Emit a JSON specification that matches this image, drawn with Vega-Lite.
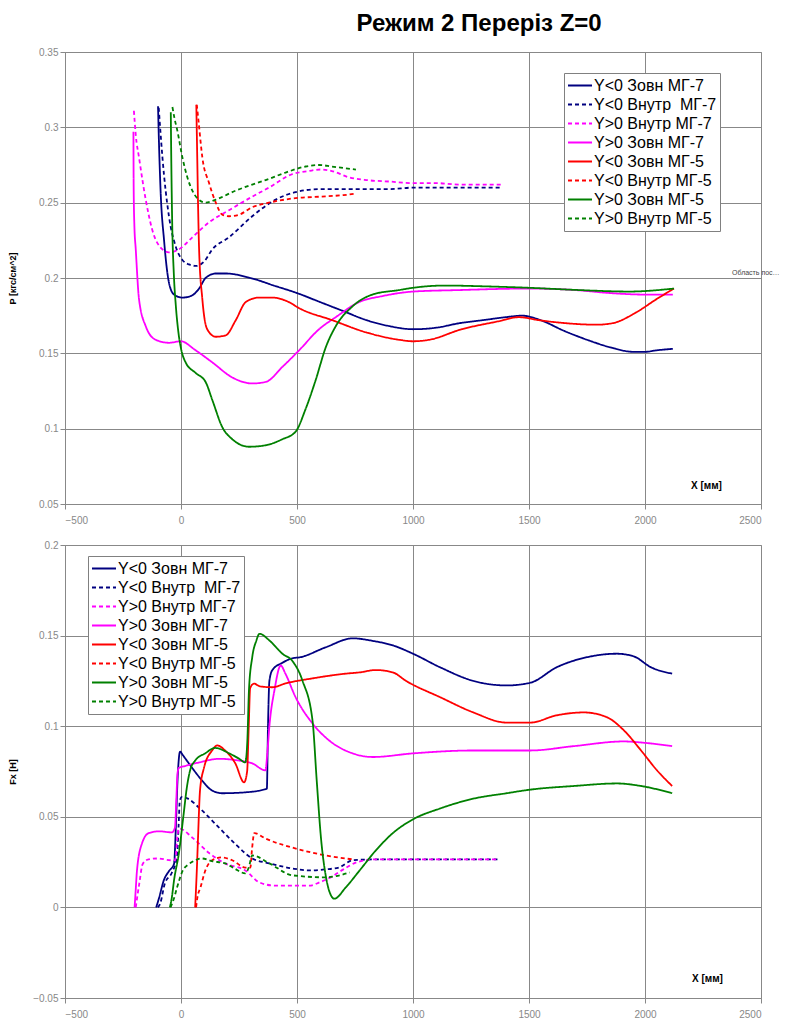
{
"$schema": "https://vega.github.io/schema/vega-lite/v6.json",
"padding": {"left": 8, "top": 11, "right": 0, "bottom": 0},
"background": "white",
"title": {"text": "Режим 2 Переріз Z=0", "fontSize": 24, "font": "Liberation Sans", "fontWeight": "bold", "color": "black", "anchor": "middle", "dx": 85, "offset": 11},
"spacing": 41,
"bounds": "flush",
"resolve": {"legend": {"color": "independent", "strokeDash": "independent"}},
"datasets": {
"top": [
{"s":"Y<0 Зовн МГ-7","x":-99,"y":0.314},{"s":"Y<0 Зовн МГ-7","x":-95,"y":0.29},{"s":"Y<0 Зовн МГ-7","x":-88,"y":0.258},{"s":"Y<0 Зовн МГ-7","x":-73,"y":0.225},{"s":"Y<0 Зовн МГ-7","x":-52,"y":0.197},{"s":"Y<0 Зовн МГ-7","x":-30,"y":0.189},{"s":"Y<0 Зовн МГ-7","x":6,"y":0.187},{"s":"Y<0 Зовн МГ-7","x":42,"y":0.188},{"s":"Y<0 Зовн МГ-7","x":78,"y":0.193},{"s":"Y<0 Зовн МГ-7","x":106,"y":0.2},{"s":"Y<0 Зовн МГ-7","x":150,"y":0.203},{"s":"Y<0 Зовн МГ-7","x":193,"y":0.203},{"s":"Y<0 Зовн МГ-7","x":300,"y":0.2},{"s":"Y<0 Зовн МГ-7","x":400,"y":0.195},{"s":"Y<0 Зовн МГ-7","x":500,"y":0.19},{"s":"Y<0 Зовн МГ-7","x":600,"y":0.184},{"s":"Y<0 Зовн МГ-7","x":700,"y":0.178},{"s":"Y<0 Зовн МГ-7","x":800,"y":0.172},{"s":"Y<0 Зовн МГ-7","x":900,"y":0.168},{"s":"Y<0 Зовн МГ-7","x":1000,"y":0.166},{"s":"Y<0 Зовн МГ-7","x":1100,"y":0.167},{"s":"Y<0 Зовн МГ-7","x":1200,"y":0.17},{"s":"Y<0 Зовн МГ-7","x":1300,"y":0.172},{"s":"Y<0 Зовн МГ-7","x":1400,"y":0.174},{"s":"Y<0 Зовн МГ-7","x":1470,"y":0.175},{"s":"Y<0 Зовн МГ-7","x":1550,"y":0.172},{"s":"Y<0 Зовн МГ-7","x":1650,"y":0.165},{"s":"Y<0 Зовн МГ-7","x":1750,"y":0.159},{"s":"Y<0 Зовн МГ-7","x":1850,"y":0.154},{"s":"Y<0 Зовн МГ-7","x":1950,"y":0.151},{"s":"Y<0 Зовн МГ-7","x":2000,"y":0.151},{"s":"Y<0 Зовн МГ-7","x":2050,"y":0.152},{"s":"Y<0 Зовн МГ-7","x":2120,"y":0.153},
{"s":"Y<0 Внутр\u00a0 МГ-7","x":-96,"y":0.313},{"s":"Y<0 Внутр\u00a0 МГ-7","x":-90,"y":0.3},{"s":"Y<0 Внутр\u00a0 МГ-7","x":-80,"y":0.28},{"s":"Y<0 Внутр\u00a0 МГ-7","x":-52,"y":0.241},{"s":"Y<0 Внутр\u00a0 МГ-7","x":-23,"y":0.221},{"s":"Y<0 Внутр\u00a0 МГ-7","x":6,"y":0.212},{"s":"Y<0 Внутр\u00a0 МГ-7","x":34,"y":0.209},{"s":"Y<0 Внутр\u00a0 МГ-7","x":65,"y":0.208},{"s":"Y<0 Внутр\u00a0 МГ-7","x":100,"y":0.211},{"s":"Y<0 Внутр\u00a0 МГ-7","x":135,"y":0.219},{"s":"Y<0 Внутр\u00a0 МГ-7","x":207,"y":0.227},{"s":"Y<0 Внутр\u00a0 МГ-7","x":307,"y":0.241},{"s":"Y<0 Внутр\u00a0 МГ-7","x":408,"y":0.252},{"s":"Y<0 Внутр\u00a0 МГ-7","x":494,"y":0.257},{"s":"Y<0 Внутр\u00a0 МГ-7","x":600,"y":0.259},{"s":"Y<0 Внутр\u00a0 МГ-7","x":700,"y":0.259},{"s":"Y<0 Внутр\u00a0 МГ-7","x":800,"y":0.259},{"s":"Y<0 Внутр\u00a0 МГ-7","x":900,"y":0.259},{"s":"Y<0 Внутр\u00a0 МГ-7","x":1000,"y":0.26},{"s":"Y<0 Внутр\u00a0 МГ-7","x":1100,"y":0.26},{"s":"Y<0 Внутр\u00a0 МГ-7","x":1200,"y":0.26},{"s":"Y<0 Внутр\u00a0 МГ-7","x":1300,"y":0.26},{"s":"Y<0 Внутр\u00a0 МГ-7","x":1380,"y":0.26},
{"s":"Y>0 Внутр МГ-7","x":-203,"y":0.311},{"s":"Y>0 Внутр МГ-7","x":-195,"y":0.295},{"s":"Y>0 Внутр МГ-7","x":-181,"y":0.28},{"s":"Y>0 Внутр МГ-7","x":-152,"y":0.252},{"s":"Y>0 Внутр МГ-7","x":-124,"y":0.232},{"s":"Y>0 Внутр МГ-7","x":-80,"y":0.219},{"s":"Y>0 Внутр МГ-7","x":-52,"y":0.217},{"s":"Y>0 Внутр МГ-7","x":-9,"y":0.219},{"s":"Y>0 Внутр МГ-7","x":49,"y":0.227},{"s":"Y>0 Внутр МГ-7","x":121,"y":0.237},{"s":"Y>0 Внутр МГ-7","x":207,"y":0.245},{"s":"Y>0 Внутр МГ-7","x":307,"y":0.254},{"s":"Y>0 Внутр МГ-7","x":379,"y":0.26},{"s":"Y>0 Внутр МГ-7","x":480,"y":0.269},{"s":"Y>0 Внутр МГ-7","x":550,"y":0.271},{"s":"Y>0 Внутр МГ-7","x":600,"y":0.272},{"s":"Y>0 Внутр МГ-7","x":650,"y":0.271},{"s":"Y>0 Внутр МГ-7","x":720,"y":0.267},{"s":"Y>0 Внутр МГ-7","x":800,"y":0.265},{"s":"Y>0 Внутр МГ-7","x":900,"y":0.264},{"s":"Y>0 Внутр МГ-7","x":1000,"y":0.263},{"s":"Y>0 Внутр МГ-7","x":1100,"y":0.263},{"s":"Y>0 Внутр МГ-7","x":1200,"y":0.262},{"s":"Y>0 Внутр МГ-7","x":1300,"y":0.262},{"s":"Y>0 Внутр МГ-7","x":1380,"y":0.262},
{"s":"Y>0 Зовн МГ-7","x":-205,"y":0.297},{"s":"Y>0 Зовн МГ-7","x":-204,"y":0.26},{"s":"Y>0 Зовн МГ-7","x":-201,"y":0.235},{"s":"Y>0 Зовн МГ-7","x":-195,"y":0.219},{"s":"Y>0 Зовн МГ-7","x":-181,"y":0.186},{"s":"Y>0 Зовн МГ-7","x":-152,"y":0.168},{"s":"Y>0 Зовн МГ-7","x":-109,"y":0.159},{"s":"Y>0 Зовн МГ-7","x":-52,"y":0.157},{"s":"Y>0 Зовн МГ-7","x":-1,"y":0.158},{"s":"Y>0 Зовн МГ-7","x":63,"y":0.152},{"s":"Y>0 Зовн МГ-7","x":135,"y":0.144},{"s":"Y>0 Зовн МГ-7","x":221,"y":0.134},{"s":"Y>0 Зовн МГ-7","x":307,"y":0.13},{"s":"Y>0 Зовн МГ-7","x":365,"y":0.131},{"s":"Y>0 Зовн МГ-7","x":437,"y":0.141},{"s":"Y>0 Зовн МГ-7","x":509,"y":0.152},{"s":"Y>0 Зовн МГ-7","x":595,"y":0.166},{"s":"Y>0 Зовн МГ-7","x":667,"y":0.174},{"s":"Y>0 Зовн МГ-7","x":767,"y":0.184},{"s":"Y>0 Зовн МГ-7","x":868,"y":0.188},{"s":"Y>0 Зовн МГ-7","x":1000,"y":0.191},{"s":"Y>0 Зовн МГ-7","x":1200,"y":0.192},{"s":"Y>0 Зовн МГ-7","x":1500,"y":0.193},{"s":"Y>0 Зовн МГ-7","x":1700,"y":0.192},{"s":"Y>0 Зовн МГ-7","x":1850,"y":0.19},{"s":"Y>0 Зовн МГ-7","x":2000,"y":0.189},{"s":"Y>0 Зовн МГ-7","x":2120,"y":0.189},
{"s":"Y<0 Зовн МГ-5","x":66,"y":0.315},{"s":"Y<0 Зовн МГ-5","x":70,"y":0.28},{"s":"Y<0 Зовн МГ-5","x":74,"y":0.245},{"s":"Y<0 Зовн МГ-5","x":78,"y":0.219},{"s":"Y<0 Зовн МГ-5","x":92,"y":0.186},{"s":"Y<0 Зовн МГ-5","x":113,"y":0.166},{"s":"Y<0 Зовн МГ-5","x":150,"y":0.161},{"s":"Y<0 Зовн МГ-5","x":193,"y":0.162},{"s":"Y<0 Зовн МГ-5","x":236,"y":0.172},{"s":"Y<0 Зовн МГ-5","x":279,"y":0.184},{"s":"Y<0 Зовн МГ-5","x":336,"y":0.187},{"s":"Y<0 Зовн МГ-5","x":394,"y":0.187},{"s":"Y<0 Зовн МГ-5","x":465,"y":0.184},{"s":"Y<0 Зовн МГ-5","x":509,"y":0.18},{"s":"Y<0 Зовн МГ-5","x":652,"y":0.172},{"s":"Y<0 Зовн МГ-5","x":796,"y":0.164},{"s":"Y<0 Зовн МГ-5","x":940,"y":0.159},{"s":"Y<0 Зовн МГ-5","x":1000,"y":0.158},{"s":"Y<0 Зовн МГ-5","x":1070,"y":0.159},{"s":"Y<0 Зовн МГ-5","x":1210,"y":0.166},{"s":"Y<0 Зовн МГ-5","x":1360,"y":0.171},{"s":"Y<0 Зовн МГ-5","x":1457,"y":0.174},{"s":"Y<0 Зовн МГ-5","x":1543,"y":0.172},{"s":"Y<0 Зовн МГ-5","x":1660,"y":0.17},{"s":"Y<0 Зовн МГ-5","x":1790,"y":0.169},{"s":"Y<0 Зовн МГ-5","x":1860,"y":0.17},{"s":"Y<0 Зовн МГ-5","x":1960,"y":0.177},{"s":"Y<0 Зовн МГ-5","x":2050,"y":0.186},{"s":"Y<0 Зовн МГ-5","x":2125,"y":0.193},
{"s":"Y<0 Внутр МГ-5","x":68,"y":0.315},{"s":"Y<0 Внутр МГ-5","x":75,"y":0.305},{"s":"Y<0 Внутр МГ-5","x":92,"y":0.28},{"s":"Y<0 Внутр МГ-5","x":121,"y":0.263},{"s":"Y<0 Внутр МГ-5","x":150,"y":0.25},{"s":"Y<0 Внутр МГ-5","x":178,"y":0.242},{"s":"Y<0 Внутр МГ-5","x":207,"y":0.241},{"s":"Y<0 Внутр МГ-5","x":250,"y":0.242},{"s":"Y<0 Внутр МГ-5","x":307,"y":0.247},{"s":"Y<0 Внутр МГ-5","x":379,"y":0.25},{"s":"Y<0 Внутр МГ-5","x":494,"y":0.253},{"s":"Y<0 Внутр МГ-5","x":600,"y":0.254},{"s":"Y<0 Внутр МГ-5","x":700,"y":0.255},{"s":"Y<0 Внутр МГ-5","x":754,"y":0.256},
{"s":"Y>0 Зовн МГ-5","x":-44,"y":0.31},{"s":"Y>0 Зовн МГ-5","x":-42,"y":0.28},{"s":"Y>0 Зовн МГ-5","x":-38,"y":0.237},{"s":"Y>0 Зовн МГ-5","x":-31,"y":0.203},{"s":"Y>0 Зовн МГ-5","x":-23,"y":0.183},{"s":"Y>0 Зовн МГ-5","x":-12,"y":0.165},{"s":"Y>0 Зовн МГ-5","x":-1,"y":0.154},{"s":"Y>0 Зовн МГ-5","x":20,"y":0.144},{"s":"Y>0 Зовн МГ-5","x":63,"y":0.137},{"s":"Y>0 Зовн МГ-5","x":106,"y":0.131},{"s":"Y>0 Зовн МГ-5","x":135,"y":0.119},{"s":"Y>0 Зовн МГ-5","x":178,"y":0.101},{"s":"Y>0 Зовн МГ-5","x":221,"y":0.093},{"s":"Y>0 Зовн МГ-5","x":293,"y":0.088},{"s":"Y>0 Зовн МГ-5","x":365,"y":0.089},{"s":"Y>0 Зовн МГ-5","x":437,"y":0.093},{"s":"Y>0 Зовн МГ-5","x":494,"y":0.098},{"s":"Y>0 Зовн МГ-5","x":537,"y":0.113},{"s":"Y>0 Зовн МГ-5","x":580,"y":0.132},{"s":"Y>0 Зовн МГ-5","x":624,"y":0.154},{"s":"Y>0 Зовн МГ-5","x":667,"y":0.168},{"s":"Y>0 Зовн МГ-5","x":738,"y":0.181},{"s":"Y>0 Зовн МГ-5","x":825,"y":0.189},{"s":"Y>0 Зовн МГ-5","x":940,"y":0.192},{"s":"Y>0 Зовн МГ-5","x":1000,"y":0.1935},{"s":"Y>0 Зовн МГ-5","x":1142,"y":0.195},{"s":"Y>0 Зовн МГ-5","x":1300,"y":0.1945},{"s":"Y>0 Зовн МГ-5","x":1500,"y":0.1935},{"s":"Y>0 Зовн МГ-5","x":1715,"y":0.192},{"s":"Y>0 Зовн МГ-5","x":1931,"y":0.191},{"s":"Y>0 Зовн МГ-5","x":2125,"y":0.193},
{"s":"Y>0 Внутр МГ-5","x":-37,"y":0.3135},{"s":"Y>0 Внутр МГ-5","x":-28,"y":0.306},{"s":"Y>0 Внутр МГ-5","x":-16,"y":0.298},{"s":"Y>0 Внутр МГ-5","x":6,"y":0.28},{"s":"Y>0 Внутр МГ-5","x":27,"y":0.267},{"s":"Y>0 Внутр МГ-5","x":49,"y":0.258},{"s":"Y>0 Внутр МГ-5","x":70,"y":0.253},{"s":"Y>0 Внутр МГ-5","x":106,"y":0.25},{"s":"Y>0 Внутр МГ-5","x":150,"y":0.252},{"s":"Y>0 Внутр МГ-5","x":236,"y":0.258},{"s":"Y>0 Внутр МГ-5","x":307,"y":0.262},{"s":"Y>0 Внутр МГ-5","x":365,"y":0.265},{"s":"Y>0 Внутр МГ-5","x":451,"y":0.27},{"s":"Y>0 Внутр МГ-5","x":537,"y":0.274},{"s":"Y>0 Внутр МГ-5","x":595,"y":0.275},{"s":"Y>0 Внутр МГ-5","x":650,"y":0.274},{"s":"Y>0 Внутр МГ-5","x":700,"y":0.273},{"s":"Y>0 Внутр МГ-5","x":754,"y":0.272}
],
"bot": [
{"s":"Y<0 Зовн МГ-7","x":-107,"y":0},{"s":"Y<0 Зовн МГ-7","x":-95,"y":0.005},{"s":"Y<0 Зовн МГ-7","x":-74,"y":0.015},{"s":"Y<0 Зовн МГ-7","x":-52,"y":0.02},{"s":"Y<0 Зовн МГ-7","x":-30,"y":0.024},{"s":"Y<0 Зовн МГ-7","x":-22,"y":0.045},{"s":"Y<0 Зовн МГ-7","x":-15,"y":0.07},{"s":"Y<0 Зовн МГ-7","x":-4,"y":0.086},{"s":"Y<0 Зовн МГ-7","x":8,"y":0.084},{"s":"Y<0 Зовн МГ-7","x":48,"y":0.077},{"s":"Y<0 Зовн МГ-7","x":91,"y":0.07},{"s":"Y<0 Зовн МГ-7","x":134,"y":0.0645},{"s":"Y<0 Зовн МГ-7","x":177,"y":0.063},{"s":"Y<0 Зовн МГ-7","x":277,"y":0.0635},{"s":"Y<0 Зовн МГ-7","x":370,"y":0.0655},{"s":"Y<0 Зовн МГ-7","x":375,"y":0.1},{"s":"Y<0 Зовн МГ-7","x":381,"y":0.125},{"s":"Y<0 Зовн МГ-7","x":394,"y":0.131},{"s":"Y<0 Зовн МГ-7","x":437,"y":0.135},{"s":"Y<0 Зовн МГ-7","x":480,"y":0.1375},{"s":"Y<0 Зовн МГ-7","x":511,"y":0.138},{"s":"Y<0 Зовн МГ-7","x":623,"y":0.1435},{"s":"Y<0 Зовн МГ-7","x":740,"y":0.1485},{"s":"Y<0 Зовн МГ-7","x":830,"y":0.147},{"s":"Y<0 Зовн МГ-7","x":913,"y":0.1446},{"s":"Y<0 Зовн МГ-7","x":1000,"y":0.14},{"s":"Y<0 Зовн МГ-7","x":1117,"y":0.1325},{"s":"Y<0 Зовн МГ-7","x":1260,"y":0.125},{"s":"Y<0 Зовн МГ-7","x":1403,"y":0.1225},{"s":"Y<0 Зовн МГ-7","x":1506,"y":0.124},{"s":"Y<0 Зовн МГ-7","x":1619,"y":0.1325},{"s":"Y<0 Зовн МГ-7","x":1766,"y":0.1385},{"s":"Y<0 Зовн МГ-7","x":1879,"y":0.14},{"s":"Y<0 Зовн МГ-7","x":1952,"y":0.1385},{"s":"Y<0 Зовн МГ-7","x":2026,"y":0.1325},{"s":"Y<0 Зовн МГ-7","x":2117,"y":0.129},
{"s":"Y<0 Внутр\u00a0 МГ-7","x":-100,"y":0},{"s":"Y<0 Внутр\u00a0 МГ-7","x":-90,"y":0.002},{"s":"Y<0 Внутр\u00a0 МГ-7","x":-70,"y":0.013},{"s":"Y<0 Внутр\u00a0 МГ-7","x":-40,"y":0.019},{"s":"Y<0 Внутр\u00a0 МГ-7","x":-17,"y":0.028},{"s":"Y<0 Внутр\u00a0 МГ-7","x":-10,"y":0.046},{"s":"Y<0 Внутр\u00a0 МГ-7","x":-5,"y":0.059},{"s":"Y<0 Внутр\u00a0 МГ-7","x":4,"y":0.061},{"s":"Y<0 Внутр\u00a0 МГ-7","x":30,"y":0.06},{"s":"Y<0 Внутр\u00a0 МГ-7","x":78,"y":0.055},{"s":"Y<0 Внутр\u00a0 МГ-7","x":164,"y":0.044},{"s":"Y<0 Внутр\u00a0 МГ-7","x":234,"y":0.035},{"s":"Y<0 Внутр\u00a0 МГ-7","x":307,"y":0.027},{"s":"Y<0 Внутр\u00a0 МГ-7","x":381,"y":0.0243},{"s":"Y<0 Внутр\u00a0 МГ-7","x":480,"y":0.0215},{"s":"Y<0 Внутр\u00a0 МГ-7","x":554,"y":0.0204},{"s":"Y<0 Внутр\u00a0 МГ-7","x":623,"y":0.021},{"s":"Y<0 Внутр\u00a0 МГ-7","x":680,"y":0.022},{"s":"Y<0 Внутр\u00a0 МГ-7","x":740,"y":0.026},{"s":"Y<0 Внутр\u00a0 МГ-7","x":840,"y":0.0265},{"s":"Y<0 Внутр\u00a0 МГ-7","x":1000,"y":0.0265},{"s":"Y<0 Внутр\u00a0 МГ-7","x":1200,"y":0.0265},{"s":"Y<0 Внутр\u00a0 МГ-7","x":1364,"y":0.0265},
{"s":"Y>0 Внутр МГ-7","x":-195,"y":0},{"s":"Y>0 Внутр МГ-7","x":-180,"y":0.013},{"s":"Y>0 Внутр МГ-7","x":-165,"y":0.024},{"s":"Y>0 Внутр МГ-7","x":-140,"y":0.0265},{"s":"Y>0 Внутр МГ-7","x":-100,"y":0.027},{"s":"Y>0 Внутр МГ-7","x":-40,"y":0.026},{"s":"Y>0 Внутр МГ-7","x":-25,"y":0.026},{"s":"Y>0 Внутр МГ-7","x":-15,"y":0.04},{"s":"Y>0 Внутр МГ-7","x":-9,"y":0.0436},{"s":"Y>0 Внутр МГ-7","x":48,"y":0.0386},{"s":"Y>0 Внутр МГ-7","x":121,"y":0.03},{"s":"Y>0 Внутр МГ-7","x":190,"y":0.0243},{"s":"Y>0 Внутр МГ-7","x":277,"y":0.0204},{"s":"Y>0 Внутр МГ-7","x":338,"y":0.0138},{"s":"Y>0 Внутр МГ-7","x":407,"y":0.012},{"s":"Y>0 Внутр МГ-7","x":480,"y":0.012},{"s":"Y>0 Внутр МГ-7","x":554,"y":0.012},{"s":"Y>0 Внутр МГ-7","x":597,"y":0.0138},{"s":"Y>0 Внутр МГ-7","x":650,"y":0.017},{"s":"Y>0 Внутр МГ-7","x":700,"y":0.021},{"s":"Y>0 Внутр МГ-7","x":760,"y":0.025},{"s":"Y>0 Внутр МГ-7","x":840,"y":0.0265},{"s":"Y>0 Внутр МГ-7","x":1000,"y":0.0265},{"s":"Y>0 Внутр МГ-7","x":1200,"y":0.0265},{"s":"Y>0 Внутр МГ-7","x":1364,"y":0.0265},
{"s":"Y>0 Зовн МГ-7","x":-200,"y":0},{"s":"Y>0 Зовн МГ-7","x":-195,"y":0.01},{"s":"Y>0 Зовн МГ-7","x":-190,"y":0.02},{"s":"Y>0 Зовн МГ-7","x":-169,"y":0.035},{"s":"Y>0 Зовн МГ-7","x":-139,"y":0.041},{"s":"Y>0 Зовн МГ-7","x":-95,"y":0.042},{"s":"Y>0 Зовн МГ-7","x":-39,"y":0.0414},{"s":"Y>0 Зовн МГ-7","x":-26,"y":0.044},{"s":"Y>0 Зовн МГ-7","x":-20,"y":0.06},{"s":"Y>0 Зовн МГ-7","x":-15,"y":0.074},{"s":"Y>0 Зовн МГ-7","x":-9,"y":0.077},{"s":"Y>0 Зовн МГ-7","x":17,"y":0.078},{"s":"Y>0 Зовн МГ-7","x":78,"y":0.08},{"s":"Y>0 Зовн МГ-7","x":164,"y":0.082},{"s":"Y>0 Зовн МГ-7","x":251,"y":0.081},{"s":"Y>0 Зовн МГ-7","x":307,"y":0.0795},{"s":"Y>0 Зовн МГ-7","x":364,"y":0.0756},{"s":"Y>0 Зовн МГ-7","x":372,"y":0.085},{"s":"Y>0 Зовн МГ-7","x":381,"y":0.1},{"s":"Y>0 Зовн МГ-7","x":403,"y":0.12},{"s":"Y>0 Зовн МГ-7","x":430,"y":0.1335},{"s":"Y>0 Зовн МГ-7","x":450,"y":0.129},{"s":"Y>0 Зовн МГ-7","x":494,"y":0.116},{"s":"Y>0 Зовн МГ-7","x":567,"y":0.1015},{"s":"Y>0 Зовн МГ-7","x":640,"y":0.092},{"s":"Y>0 Зовн МГ-7","x":740,"y":0.085},{"s":"Y>0 Зовн МГ-7","x":827,"y":0.083},{"s":"Y>0 Зовн МГ-7","x":1000,"y":0.085},{"s":"Y>0 Зовн МГ-7","x":1260,"y":0.0866},{"s":"Y>0 Зовн МГ-7","x":1506,"y":0.0866},{"s":"Y>0 Зовн МГ-7","x":1693,"y":0.089},{"s":"Y>0 Зовн МГ-7","x":1909,"y":0.0916},{"s":"Y>0 Зовн МГ-7","x":1983,"y":0.091},{"s":"Y>0 Зовн МГ-7","x":2117,"y":0.089},
{"s":"Y<0 Зовн МГ-5","x":61,"y":0},{"s":"Y<0 Зовн МГ-5","x":68,"y":0.02},{"s":"Y<0 Зовн МГ-5","x":73,"y":0.037},{"s":"Y<0 Зовн МГ-5","x":82,"y":0.0646},{"s":"Y<0 Зовн МГ-5","x":99,"y":0.077},{"s":"Y<0 Зовн МГ-5","x":134,"y":0.0866},{"s":"Y<0 Зовн МГ-5","x":156,"y":0.0894},{"s":"Y<0 Зовн МГ-5","x":190,"y":0.0866},{"s":"Y<0 Зовн МГ-5","x":234,"y":0.0795},{"s":"Y<0 Зовн МГ-5","x":272,"y":0.069},{"s":"Y<0 Зовн МГ-5","x":285,"y":0.075},{"s":"Y<0 Зовн МГ-5","x":292,"y":0.1},{"s":"Y<0 Зовн МГ-5","x":298,"y":0.121},{"s":"Y<0 Зовн МГ-5","x":315,"y":0.1235},{"s":"Y<0 Зовн МГ-5","x":340,"y":0.122},{"s":"Y<0 Зовн МГ-5","x":394,"y":0.1215},{"s":"Y<0 Зовн МГ-5","x":450,"y":0.1236},{"s":"Y<0 Зовн МГ-5","x":567,"y":0.1264},{"s":"Y<0 Зовн МГ-5","x":710,"y":0.129},{"s":"Y<0 Зовн МГ-5","x":770,"y":0.1297},{"s":"Y<0 Зовн МГ-5","x":840,"y":0.131},{"s":"Y<0 Зовн МГ-5","x":913,"y":0.1297},{"s":"Y<0 Зовн МГ-5","x":970,"y":0.125},{"s":"Y<0 Зовн МГ-5","x":1117,"y":0.116},{"s":"Y<0 Зовн МГ-5","x":1260,"y":0.1076},{"s":"Y<0 Зовн МГ-5","x":1403,"y":0.102},{"s":"Y<0 Зовн МГ-5","x":1506,"y":0.102},{"s":"Y<0 Зовн МГ-5","x":1619,"y":0.106},{"s":"Y<0 Зовн МГ-5","x":1736,"y":0.1076},{"s":"Y<0 Зовн МГ-5","x":1835,"y":0.105},{"s":"Y<0 Зовн МГ-5","x":1909,"y":0.0977},{"s":"Y<0 Зовн МГ-5","x":1983,"y":0.0866},{"s":"Y<0 Зовн МГ-5","x":2052,"y":0.0756},{"s":"Y<0 Зовн МГ-5","x":2117,"y":0.067},
{"s":"Y<0 Внутр МГ-5","x":65,"y":0},{"s":"Y<0 Внутр МГ-5","x":70,"y":0.005},{"s":"Y<0 Внутр МГ-5","x":84,"y":0.011},{"s":"Y<0 Внутр МГ-5","x":105,"y":0.0204},{"s":"Y<0 Внутр МГ-5","x":134,"y":0.026},{"s":"Y<0 Внутр МГ-5","x":177,"y":0.0276},{"s":"Y<0 Внутр МГ-5","x":221,"y":0.026},{"s":"Y<0 Внутр МГ-5","x":277,"y":0.022},{"s":"Y<0 Внутр МГ-5","x":299,"y":0.022},{"s":"Y<0 Внутр МГ-5","x":306,"y":0.032},{"s":"Y<0 Внутр МГ-5","x":316,"y":0.041},{"s":"Y<0 Внутр МГ-5","x":364,"y":0.038},{"s":"Y<0 Внутр МГ-5","x":480,"y":0.033},{"s":"Y<0 Внутр МГ-5","x":623,"y":0.0287},{"s":"Y<0 Внутр МГ-5","x":740,"y":0.0265},
{"s":"Y>0 Зовн МГ-5","x":-48,"y":0},{"s":"Y>0 Зовн МГ-5","x":-40,"y":0.005},{"s":"Y>0 Зовн МГ-5","x":-30,"y":0.015},{"s":"Y>0 Зовн МГ-5","x":-9,"y":0.03},{"s":"Y>0 Зовн МГ-5","x":10,"y":0.05},{"s":"Y>0 Зовн МГ-5","x":25,"y":0.066},{"s":"Y>0 Зовн МГ-5","x":40,"y":0.076},{"s":"Y>0 Зовн МГ-5","x":61,"y":0.081},{"s":"Y>0 Зовн МГ-5","x":104,"y":0.085},{"s":"Y>0 Зовн МГ-5","x":147,"y":0.088},{"s":"Y>0 Зовн МГ-5","x":208,"y":0.085},{"s":"Y>0 Зовн МГ-5","x":251,"y":0.082},{"s":"Y>0 Зовн МГ-5","x":277,"y":0.08},{"s":"Y>0 Зовн МГ-5","x":286,"y":0.092},{"s":"Y>0 Зовн МГ-5","x":293,"y":0.12},{"s":"Y>0 Зовн МГ-5","x":307,"y":0.138},{"s":"Y>0 Зовн МГ-5","x":325,"y":0.1473},{"s":"Y>0 Зовн МГ-5","x":338,"y":0.151},{"s":"Y>0 Зовн МГ-5","x":381,"y":0.1473},{"s":"Y>0 Зовн МГ-5","x":437,"y":0.14},{"s":"Y>0 Зовн МГ-5","x":480,"y":0.136},{"s":"Y>0 Зовн МГ-5","x":524,"y":0.125},{"s":"Y>0 Зовн МГ-5","x":567,"y":0.103},{"s":"Y>0 Зовн МГ-5","x":585,"y":0.07},{"s":"Y>0 Зовн МГ-5","x":603,"y":0.0388},{"s":"Y>0 Зовн МГ-5","x":625,"y":0.0167},{"s":"Y>0 Зовн МГ-5","x":645,"y":0.007},{"s":"Y>0 Зовн МГ-5","x":661,"y":0.0048},{"s":"Y>0 Зовн МГ-5","x":710,"y":0.011},{"s":"Y>0 Зовн МГ-5","x":770,"y":0.0204},{"s":"Y>0 Зовн МГ-5","x":840,"y":0.0315},{"s":"Y>0 Зовн МГ-5","x":913,"y":0.041},{"s":"Y>0 Зовн МГ-5","x":1000,"y":0.0486},{"s":"Y>0 Зовн МГ-5","x":1117,"y":0.0546},{"s":"Y>0 Зовн МГ-5","x":1260,"y":0.06},{"s":"Y>0 Зовн МГ-5","x":1403,"y":0.063},{"s":"Y>0 Зовн МГ-5","x":1506,"y":0.065},{"s":"Y>0 Зовн МГ-5","x":1693,"y":0.067},{"s":"Y>0 Зовн МГ-5","x":1879,"y":0.0684},{"s":"Y>0 Зовн МГ-5","x":1983,"y":0.067},{"s":"Y>0 Зовн МГ-5","x":2117,"y":0.063},
{"s":"Y>0 Внутр МГ-5","x":-45,"y":0},{"s":"Y>0 Внутр МГ-5","x":-30,"y":0.005},{"s":"Y>0 Внутр МГ-5","x":-17,"y":0.011},{"s":"Y>0 Внутр МГ-5","x":8,"y":0.0204},{"s":"Y>0 Внутр МГ-5","x":35,"y":0.024},{"s":"Y>0 Внутр МГ-5","x":61,"y":0.026},{"s":"Y>0 Внутр МГ-5","x":90,"y":0.027},{"s":"Y>0 Внутр МГ-5","x":134,"y":0.0255},{"s":"Y>0 Внутр МГ-5","x":190,"y":0.0243},{"s":"Y>0 Внутр МГ-5","x":230,"y":0.0215},{"s":"Y>0 Внутр МГ-5","x":277,"y":0.0188},{"s":"Y>0 Внутр МГ-5","x":292,"y":0.022},{"s":"Y>0 Внутр МГ-5","x":307,"y":0.0287},{"s":"Y>0 Внутр МГ-5","x":381,"y":0.0243},{"s":"Y>0 Внутр МГ-5","x":480,"y":0.0177},{"s":"Y>0 Внутр МГ-5","x":623,"y":0.0166},{"s":"Y>0 Внутр МГ-5","x":727,"y":0.0193}
]
},
"vconcat": [
{
"width": 696, "height": 452,
"layer": [
{"data": {"name": "top"},
 "mark": {"type": "line", "interpolate": "monotone", "strokeWidth": 1.8},
 "encoding": {
  "x": {"field": "x", "type": "quantitative", "scale": {"domain": [-500, 2500], "nice": false}, "axis": {"values": [-500,0,500,1000,1500,2000,2500], "format": "d", "title": "X [мм]", "titleX": 641, "titleY": -19, "titleAlign": "center", "titleBaseline": "middle", "titleFontSize": 10, "labelPadding": 6}},
  "y": {"field": "y", "type": "quantitative", "scale": {"domain": [0.05, 0.35], "nice": false, "zero": false}, "axis": {"values": [0.05,0.1,0.15,0.2,0.25,0.3,0.35], "format": ".2~f", "title": "P [кгс/см^2]", "titlePadding": 21}},
  "color": {"field": "s", "type": "nominal", "scale": {"domain": ["Y<0 Зовн МГ-7","Y<0 Внутр\u00a0 МГ-7","Y>0 Внутр МГ-7","Y>0 Зовн МГ-7","Y<0 Зовн МГ-5","Y<0 Внутр МГ-5","Y>0 Зовн МГ-5","Y>0 Внутр МГ-5"], "range": ["#000080","#000080","#ff00ff","#ff00ff","#ff0000","#ff0000","#008000","#008000"]}, "legend": {"title": null, "legendX": 499, "legendY": 21}},
  "strokeDash": {"field": "s", "type": "nominal", "scale": {"domain": ["Y<0 Зовн МГ-7","Y<0 Внутр\u00a0 МГ-7","Y>0 Внутр МГ-7","Y>0 Зовн МГ-7","Y<0 Зовн МГ-5","Y<0 Внутр МГ-5","Y>0 Зовн МГ-5","Y>0 Внутр МГ-5"], "range": [[1,0],[4,3],[4,3],[1,0],[1,0],[4,3],[1,0],[4,3]]}, "legend": {"title": null, "legendX": 499, "legendY": 21}}
 }},
{"data": {"values": [{}]},
 "mark": {"type": "text", "align": "left", "baseline": "middle", "fontSize": 7, "color": "#444444", "limit": 50, "ellipsis": ""},
 "encoding": {"x": {"datum": 2375}, "y": {"datum": 0.2035}, "text": {"value": "Область построения"}}}
]
},
{
"width": 696, "height": 453,
"data": {"name": "bot"},
"mark": {"type": "line", "interpolate": "monotone", "strokeWidth": 1.8},
"encoding": {
  "x": {"field": "x", "type": "quantitative", "scale": {"domain": [-500, 2500], "nice": false}, "axis": {"values": [-500,0,500,1000,1500,2000,2500], "format": "d", "title": "X [мм]", "titleX": 642, "titleY": -20, "titleAlign": "center", "titleBaseline": "middle", "titleFontSize": 10, "labelPadding": 6}},
  "y": {"field": "y", "type": "quantitative", "scale": {"domain": [-0.05, 0.2], "nice": false, "zero": false}, "axis": {"values": [-0.05,0,0.05,0.1,0.15,0.2], "format": ".2~f", "title": "Fx [Н]", "titlePadding": 15}},
  "color": {"field": "s", "type": "nominal", "scale": {"domain": ["Y<0 Зовн МГ-7","Y<0 Внутр\u00a0 МГ-7","Y>0 Внутр МГ-7","Y>0 Зовн МГ-7","Y<0 Зовн МГ-5","Y<0 Внутр МГ-5","Y>0 Зовн МГ-5","Y>0 Внутр МГ-5"], "range": ["#000080","#000080","#ff00ff","#ff00ff","#ff0000","#ff0000","#008000","#008000"]}, "legend": {"title": null, "legendX": 23, "legendY": 11}},
  "strokeDash": {"field": "s", "type": "nominal", "scale": {"domain": ["Y<0 Зовн МГ-7","Y<0 Внутр\u00a0 МГ-7","Y>0 Внутр МГ-7","Y>0 Зовн МГ-7","Y<0 Зовн МГ-5","Y<0 Внутр МГ-5","Y>0 Зовн МГ-5","Y>0 Внутр МГ-5"], "range": [[1,0],[4,3],[4,3],[1,0],[1,0],[4,3],[1,0],[4,3]]}, "legend": {"title": null, "legendX": 23, "legendY": 11}}
}
}
],
"config": {
 "font": "Liberation Sans",
 "view": {"stroke": "#a0a0a0"},
 "axis": {"grid": true, "gridColor": "#888888", "gridOpacity": 1, "gridWidth": 1, "domainColor": "#888888", "tickColor": "#888888", "labelColor": "#888888", "labelFontSize": 10, "labelFont": "Liberation Sans", "titleFont": "Liberation Sans", "titleFontSize": 9, "titleFontWeight": "bold", "titleColor": "black", "tickSize": 5},
 "legend": {"orient": "none", "direction": "vertical", "symbolType": "stroke", "symbolSize": 576, "symbolStrokeWidth": 2, "labelFontSize": 16, "labelFont": "Liberation Sans", "labelColor": "black", "fillColor": "white", "strokeColor": "#808080", "padding": 3, "rowPadding": 0, "clipHeight": 19, "labelOffset": 1}
}
}
